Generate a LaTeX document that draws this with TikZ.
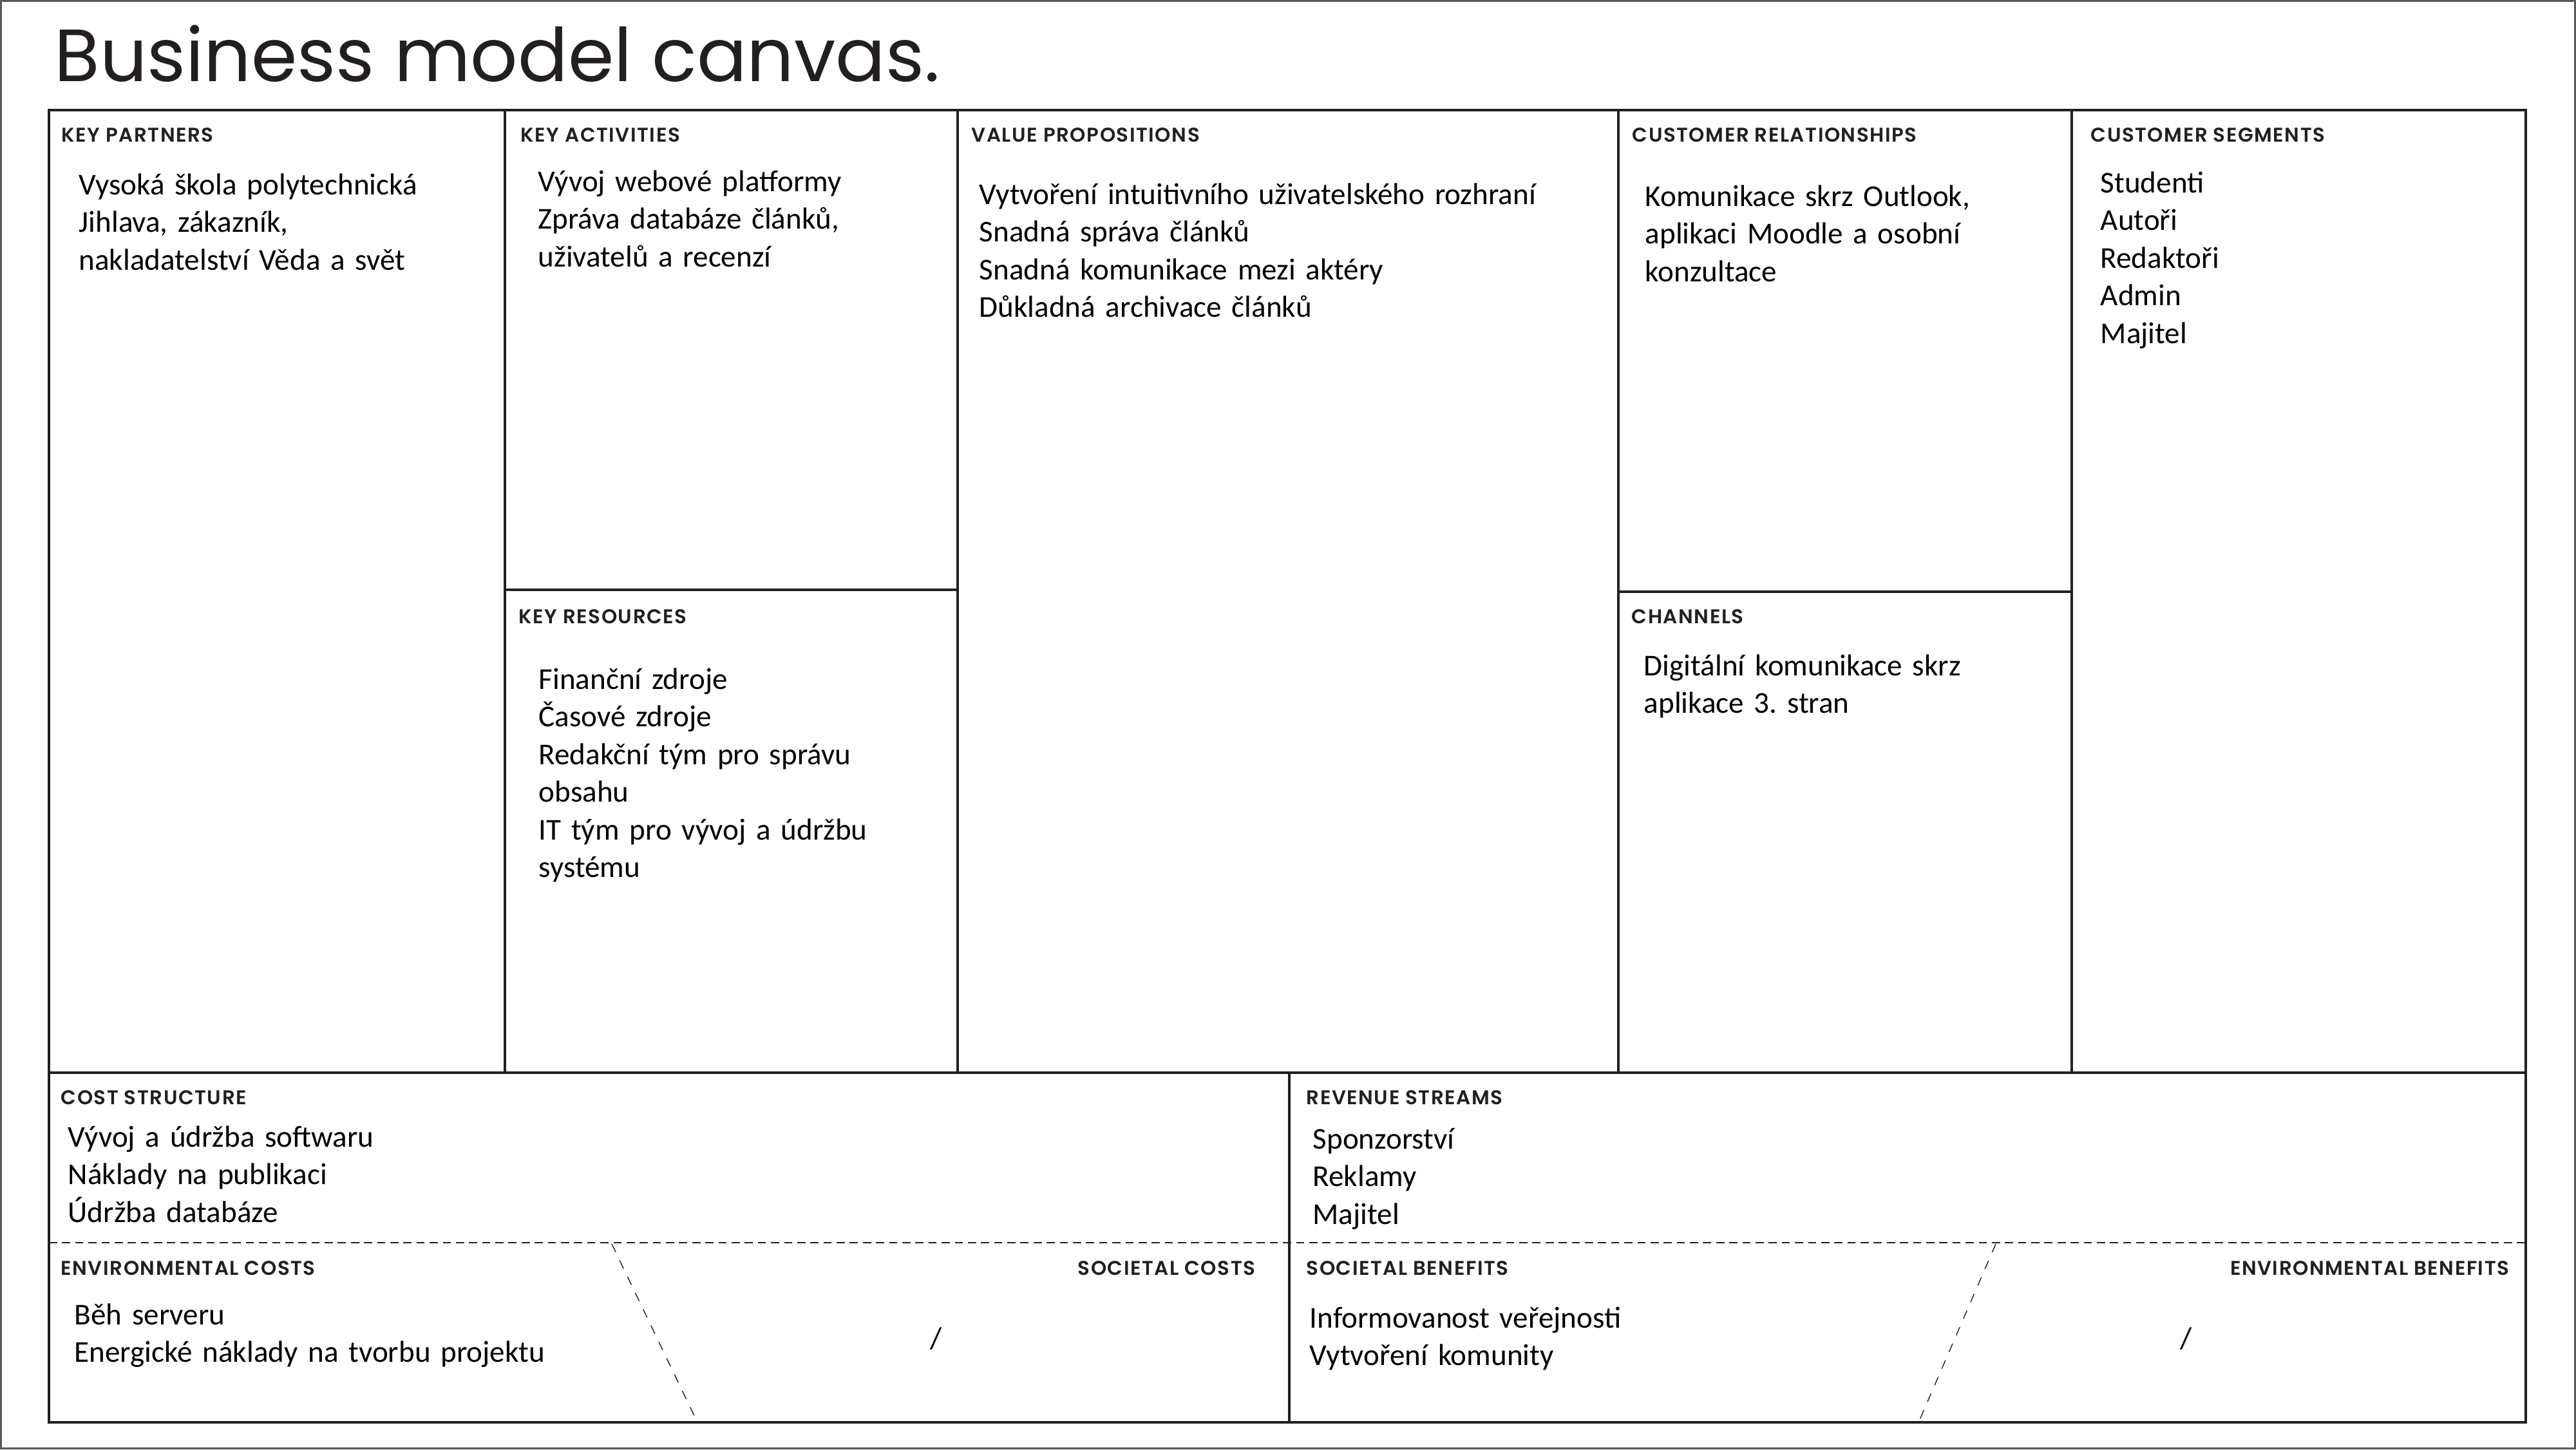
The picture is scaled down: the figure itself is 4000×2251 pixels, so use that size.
\documentclass[tikz,border=0pt]{standalone}
\usepackage{fontspec}
\setmainfont{Carlito}
\newfontfamily\titlefont{Poppins}
\newfontfamily\headfont{Poppins}[LetterSpace=5, BoldFont={Poppins SemiBold}]
\definecolor{ink}{HTML}{231F20}
\newcommand{\bodysize}{\fontsize{13.4pt}{16.67pt}\selectfont}
\frenchspacing

\begin{document}
\begin{tikzpicture}[x=0.1mm,y=-0.1mm,
  frame/.style={draw=ink,line width=0.4mm},
  divider/.style={draw=ink,line width=0.6pt,dash pattern=on 3.6pt off 2.2pt},
  slant/.style={draw=ink,line width=0.4pt,dash pattern=on 4pt off 4pt},
  head/.style={anchor=base west,inner sep=0pt,text=ink,
    font=\headfont\bfseries\fontsize{8.8pt}{10pt}\selectfont},
  headr/.style={head,anchor=base east},
  body/.style={anchor=base west,inner sep=0pt,align=left,text width=13cm,
    text=black,font=\bodysize}]
\useasboundingbox (0,0) rectangle (4000,2251);
\draw[black!65,line width=0.3mm] (1.5,1.5) rectangle (3998.5,2249.5);

% title
\node (title) at (84,126) [anchor=base west,inner sep=0pt,text=ink,
  font=\titlefont\fontsize{32.7pt}{33pt}\selectfont] {Business model canvas.};

% grid
\draw[frame] (76,171) rectangle (3922,2209);
\draw[frame] (784,171) -- (784,1666);
\draw[frame] (1487,171) -- (1487,1666);
\draw[frame] (2513,171) -- (2513,1666);
\draw[frame] (3217,171) -- (3217,1666);
\draw[frame] (784,916) -- (1487,916);
\draw[frame] (2513,919) -- (3217,919);
\draw[frame] (76,1666) -- (3922,1666);
\draw[frame] (2002,1666) -- (2002,2209);
\draw[divider] (76,1930) -- (3922,1930);
\draw[slant] (950,1932) -- (1082,2207);
\draw[slant] (3099,1932) -- (2980,2207);

% headings
\node (kp) at (95,220) [head] {KEY PARTNERS};
\node (ka) at (808,220) [head] {KEY ACTIVITIES};
\node (vp) at (1508,220) [head] {VALUE PROPOSITIONS};
\node (cr) at (2534,220) [head] {CUSTOMER RELATIONSHIPS};
\node (cs) at (3246,220) [head] {CUSTOMER SEGMENTS};
\node (kr) at (805,968) [head] {KEY RESOURCES};
\node (ch) at (2533,968) [head] {CHANNELS};
\node (cost) at (94,1715) [head] {COST STRUCTURE};
\node (rev) at (2028,1715) [head] {REVENUE STREAMS};
\node (envc) at (94,1980) [head] {ENVIRONMENTAL COSTS};
\node (socc) at (1950,1980) [headr] {SOCIETAL COSTS};
\node (socb) at (2028,1980) [head] {SOCIETAL BENEFITS};
\node (envb) at (3897,1980) [headr] {ENVIRONMENTAL BENEFITS};

% contents
\node (kptext) at (122,302) [body] {Vysoká škola polytechnická\\Jihlava, zákazník,\\nakladatelství Věda a svět};
\node (katext) at (835,297) [body] {Vývoj webové platformy\\Zpráva databáze článků,\\uživatelů a recenzí};
\node (vptext) at (1520,317) [body] {Vytvoření intuitivního uživatelského rozhraní\\Snadná správa článků\\Snadná komunikace mezi aktéry\\Důkladná archivace článků};
\node (crtext) at (2554,320) [body] {Komunikace skrz Outlook,\\aplikaci Moodle a osobní\\konzultace};
\node (cstext) at (3261,299) [body] {Studenti\\Autoři\\Redaktoři\\Admin\\Majitel};
\node (krtext) at (836,1070) [body] {Finanční zdroje\\Časové zdroje\\Redakční tým pro správu\\obsahu\\IT tým pro vývoj a údržbu\\systému};
\node (chtext) at (2552,1049) [body] {Digitální komunikace skrz\\aplikace 3. stran};
\node (costtext) at (105,1781) [body] {Vývoj a údržba softwaru\\Náklady na publikaci\\Údržba databáze};
\node (revtext) at (2038,1784) [body] {Sponzorství\\Reklamy\\Majitel};
\node (envctext) at (115,2057) [body] {Běh serveru\\Energické náklady na tvorbu projektu};
\node (socctext) at (1454,2079) [inner sep=0pt,font=\bodysize] {/};
\node (socbtext) at (2033,2062) [body] {Informovanost veřejnosti\\Vytvoření komunity};
\node (envbtext) at (3395,2079) [inner sep=0pt,font=\bodysize] {/};
\end{tikzpicture}
\end{document}
